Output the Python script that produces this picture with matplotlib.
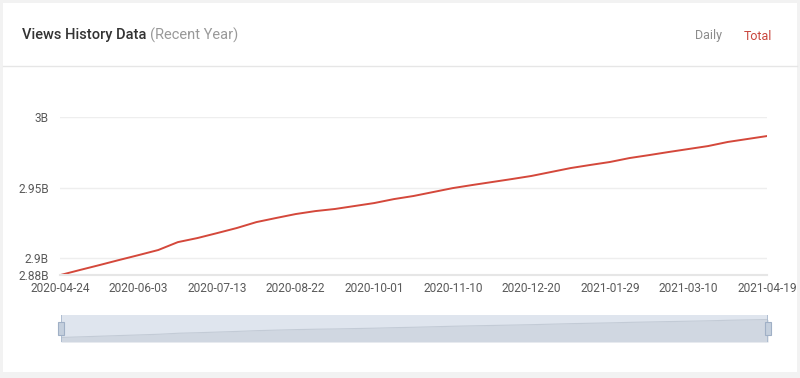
import matplotlib.pyplot as plt
import matplotlib.patches as patches
import numpy as np
import pandas as pd

plt.rcParams['font.family'] = ['Roboto', 'DejaVu Sans']

# data, every 10 days (billions of views)
start = pd.Timestamp("2020-04-24")
day_offsets = list(range(0, 361, 10))
views = [2.8879, 2.8915, 2.8950, 2.8986, 2.9021, 2.9057, 2.9113, 2.9142, 2.9177,
         2.9213, 2.9255, 2.9284, 2.9312, 2.9333, 2.9348, 2.9369, 2.9390, 2.9418,
         2.9440, 2.9468, 2.9496, 2.9518, 2.9539, 2.9560, 2.9582, 2.9610, 2.9638,
         2.9660, 2.9681, 2.9709, 2.9730, 2.9752, 2.9773, 2.9794, 2.9823, 2.9844,
         2.9865]
tick_days = list(range(0, 361, 40))
y_ticks = [2.888, 2.9, 2.95, 3.0]
y_labels = ["2.88B", "2.9B", "2.95B", "3B"]

W, H = 800, 378
fig = plt.figure(figsize=(W / 100, H / 100), dpi=100)
fig.patch.set_facecolor("#f2f2f2")

# white card
card = patches.Rectangle((3 / W, 6 / H), 794 / W, 369 / H, transform=fig.transFigure,
                         facecolor="white", edgecolor="none", zorder=-10)
fig.add_artist(card)

# header
fig.text(22 / W, 1 - 35 / H, "Views History Data", fontsize=10.5, color="#333333",
         va="center", ha="left", weight="medium")
fig.text(150 / W, 1 - 35 / H, "(Recent Year)", fontsize=10.5, color="#999999",
         va="center", ha="left")
fig.text(722 / W, 1 - 36 / H, "Daily", fontsize=9, color="#8c8c8c", va="center", ha="right")
fig.text(772 / W, 1 - 36 / H, "Total", fontsize=9, color="#c9463d", va="center", ha="right")
fig.add_artist(plt.Line2D([3 / W, 797 / W], [1 - 66 / H, 1 - 66 / H], color="#e6e6e6",
                          lw=1, transform=fig.transFigure))

# main chart
ax = fig.add_axes([60 / W, (H - 275) / H, 707 / W, 158 / H])
ax.set_zorder(2)
ax.patch.set_alpha(0)
x = np.array(day_offsets)
ax.plot(x, views, color="#d4483b", lw=1.4, solid_capstyle="round")
ax.set_xlim(0, 360)
ax.set_ylim(2.888, 3.0)
for v in y_ticks[1:]:
    ax.axhline(v, color="#eeeeee", lw=1, zorder=0)
ax.set_yticks(y_ticks)
ax.set_yticklabels(y_labels)
ax.set_xticks(tick_days)
ax.set_xticklabels([(start + pd.Timedelta(days=d)).strftime("%Y-%m-%d") for d in tick_days])
ax.tick_params(axis="both", length=0, labelsize=8.6, colors="#5a5a5a")
ax.tick_params(axis="x", pad=5)
ax.tick_params(axis="y", pad=8)
for s in ["top", "right", "left"]:
    ax.spines[s].set_visible(False)
ax.spines["bottom"].set_color("#e6e6e6")
ax.spines["bottom"].set_linewidth(1.5)

# data zoom slider
sx = fig.add_axes([61 / W, (H - 342) / H, 707 / W, 27 / H])
sx.set_zorder(2)
sx.set_facecolor("#dfe5ee")
lo, hi = min(views), max(views)
sx.set_xlim(0, 360)
sx.set_ylim(lo - (hi - lo) * 0.25, hi + (hi - lo) * 0.25)
sx.fill_between(x, sx.get_ylim()[0], views, color="#d0d7e1", lw=0)
sx.plot(x, views, color="#c3cbd6", lw=0.8)
sx.set_xticks([])
sx.set_yticks([])
for s in sx.spines.values():
    s.set_visible(False)
for hx in [0, 360]:
    sx.axvline(hx, color="#a7b7cc", lw=1.2)
    sx.add_patch(patches.Rectangle((hx - 1.5, 0.27), 3, 0.46, transform=sx.get_xaxis_transform(),
                                   facecolor="#c4cfdd", edgecolor="#a0b0c6", lw=0.8,
                                   clip_on=False, zorder=3))

fig.savefig("out.png", dpi=100)
